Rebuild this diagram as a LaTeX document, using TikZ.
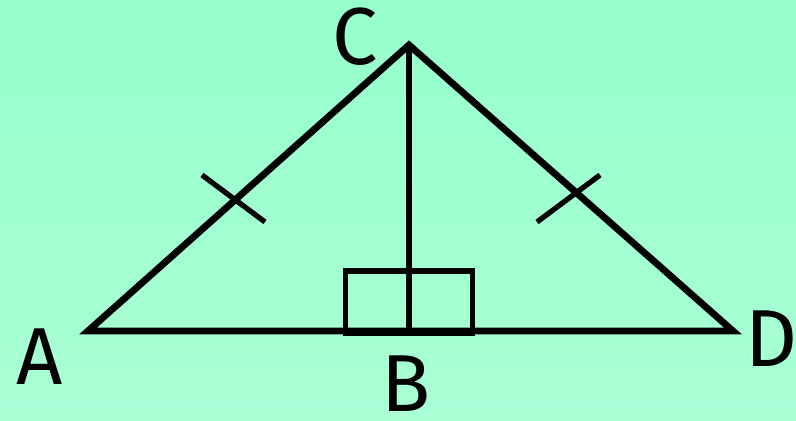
\documentclass[tikz,border=0pt]{standalone}
\usepackage{fontspec}
\setmainfont{Fira Sans}
\usetikzlibrary{calc}
\definecolor{mint}{RGB}{150,255,204}
\definecolor{mintlow}{RGB}{170,255,213}
\tikzset{
  side/.style={line width=3.9pt,draw=black,line join=miter},
  tickmark/.style={line width=3pt,draw=black},
  sq/.style={line width=3pt,draw=black},
  vlabel/.style={font=\fontsize{46}{46}\selectfont,text=black,inner sep=0pt,text depth=0pt},
}
\begin{document}
\begin{tikzpicture}[x=0.02cm,y=-0.02cm]
  % background
  \shade[top color=mint,bottom color=mintlow] (0,0) rectangle (796,421);
  \useasboundingbox (0,0) rectangle (796,421);
  % vertices
  \coordinate (A) at (88,331);
  \coordinate (B) at (409,331);
  \coordinate (C) at (409,45);
  \coordinate (D) at (733,331);
  % right angle box
  \draw[sq] (345.5,333) rectangle (472.5,271);
  % triangle and altitude
  \draw[side] (A) -- (C) -- (D) -- cycle;
  \draw[side] (C) -- (B);
  % equal sides
  \coordinate (t1a) at (202,175); \coordinate (t1b) at (265,222);
  \coordinate (t2a) at (600,175); \coordinate (t2b) at (537,222);
  \draw[tickmark] (t1a) -- (t1b);
  \draw[tickmark] (t2a) -- (t2b);
  % labels
  \node[vlabel] (lA) at (40,357) {A};
  \node[vlabel] (lB) at (406,384) {B};
  \node[vlabel] (lC) at (355,36) {C};
  \node[vlabel] (lD) at (772,339) {D};
\end{tikzpicture}
\end{document}
